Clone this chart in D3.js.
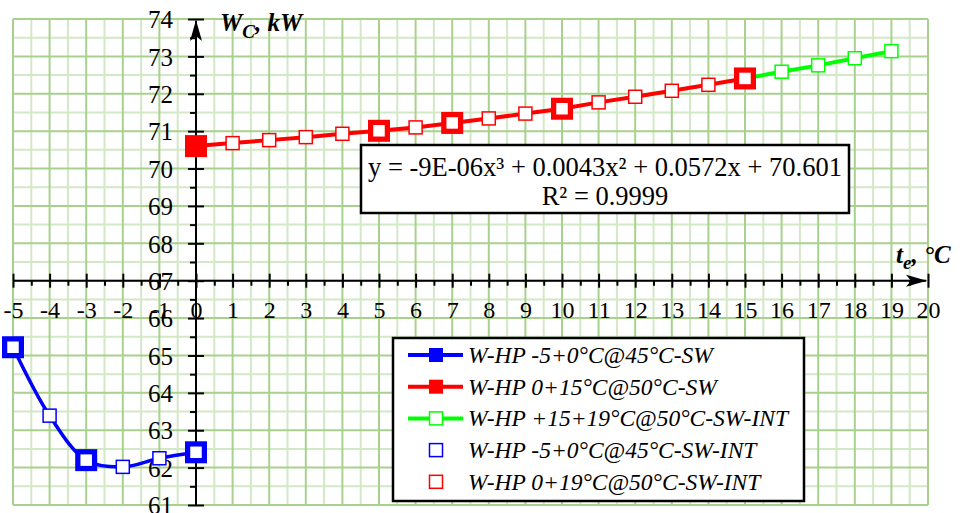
<!DOCTYPE html>
<html><head><meta charset="utf-8">
<script src="https://cdn.jsdelivr.net/npm/d3@7"></script>
<style>body{margin:0;background:#fff}svg{display:block}</style>
</head><body>
<svg id="c" width="964" height="513"></svg>
<script>
// ---- data ----
const blueMainX = [-5, -3, 0];
const blueMainY = [65.22, 62.2, 62.41];
const blueIntX = [-5, -4, -3, -2, -1, 0];
const blueIntY = [65.22, 63.39, 62.2, 62.02, 62.25, 62.41];
const redMainX = [0, 5, 7, 10, 15];
const redMainY = [70.6, 71.01, 71.22, 71.6, 72.41];
const redIntX = [1, 2, 3, 4, 5, 6, 7, 8, 9, 10, 11, 12, 13, 14, 15];
const redIntY = [70.68, 70.76, 70.84, 70.93, 71.01, 71.1, 71.22, 71.34, 71.47, 71.6, 71.77, 71.92, 72.08, 72.24, 72.41];
const greenX = [15, 16, 17, 18, 19];
const greenY = [72.41, 72.59, 72.76, 72.95, 73.14];
const xTicks = [-5,-4,-3,-2,-1,0,1,2,3,4,5,6,7,8,9,10,11,12,13,14,15,16,17,18,19,20];
const yTicks = [61,62,63,64,65,66,67,68,69,70,71,72,73,74];
const legendLabels = ["W-HP -5+0°C@45°C-SW","W-HP 0+15°C@50°C-SW","W-HP +15+19°C@50°C-SW-INT","W-HP -5+0°C@45°C-SW-INT","W-HP 0+19°C@50°C-SW-INT"];
const eqLines = ["y = -9E-06x³ + 0.0043x² + 0.0572x + 70.601", "R² = 0.9999"];

const BLUE="#0000ff", RED="#ff0000", GREEN="#00ff00";
const FONT="Liberation Serif, Times New Roman, serif";
const svg = d3.select("#c");
const x = d3.scaleLinear().domain([-5,20]).range([13,928]);
const y = d3.scaleLinear().domain([61,74]).range([505,19]);

// ---- grid ----
const g = svg.append("g");
const halfX = d3.range(-5, 20.01, 0.5), halfY = d3.range(61, 74.01, 0.5);
halfX.filter(v=>v%1!==0).forEach(v=>g.append("line").attr("x1",x(v)).attr("x2",x(v)).attr("y1",y(61)).attr("y2",y(74)).attr("stroke","#d3e8c6").attr("stroke-width",2));
halfY.filter(v=>v%1!==0).forEach(v=>g.append("line").attr("y1",y(v)).attr("y2",y(v)).attr("x1",x(-5)).attr("x2",x(20)).attr("stroke","#d3e8c6").attr("stroke-width",2));
halfX.filter(v=>v%1===0).forEach(v=>g.append("line").attr("x1",x(v)).attr("x2",x(v)).attr("y1",y(61)).attr("y2",y(74)).attr("stroke","#a9d18e").attr("stroke-width",2));
halfY.filter(v=>v%1===0).forEach(v=>g.append("line").attr("y1",y(v)).attr("y2",y(v)).attr("x1",x(-5)).attr("x2",x(20)).attr("stroke","#a9d18e").attr("stroke-width",2));

// ---- axes ----
const xAxisY = y(67), yAxisX = x(0);
svg.append("g").attr("transform",`translate(0,${xAxisY})`)
  .call(d3.axisBottom(x).tickValues(halfX.filter(v=>v%1!==0)).tickSize(5).tickFormat(""))
  .call(s=>{s.select(".domain").remove();s.selectAll("line").attr("stroke","#000").attr("stroke-width",2);});
svg.append("g").attr("transform",`translate(0,${xAxisY})`)
  .attr("font-family",FONT).attr("font-size",24)
  .call(d3.axisBottom(x).tickValues(xTicks).tickSize(7).tickPadding(23).tickFormat(d=>d))
  .call(s=>{s.attr("font-family",FONT).attr("font-size",24);s.select(".domain").remove();s.selectAll("line").attr("y1",-7).attr("stroke","#000").attr("stroke-width",2);
    s.selectAll("text").style("font-family",FONT).style("font-size","24px").attr("fill","#000").attr("dy","0.32em");});
svg.append("line").attr("x1",x(-5)).attr("x2",x(20)-2).attr("y1",xAxisY).attr("y2",xAxisY).attr("stroke","#000").attr("stroke-width",2);
svg.append("path").attr("d",`M${x(20)-22},${xAxisY-6} L${x(20)-1},${xAxisY} L${x(20)-22},${xAxisY+6} L${x(20)-17},${xAxisY} Z`).attr("fill","#000");

svg.append("g").attr("transform",`translate(${yAxisX},0)`)
  .call(d3.axisLeft(y).tickValues(halfY.filter(v=>v%1!==0)).tickSize(6).tickFormat(""))
  .call(s=>{s.select(".domain").remove();s.selectAll("line").attr("stroke","#000").attr("stroke-width",2);});
svg.append("g").attr("transform",`translate(${yAxisX},0)`)
  .call(d3.axisLeft(y).tickValues(yTicks).tickSize(8).tickPadding(15).tickFormat(d=>d))
  .call(s=>{s.attr("font-family",FONT).attr("font-size",25);s.select(".domain").remove();s.selectAll("line").attr("x1",8).attr("stroke","#000").attr("stroke-width",2);
    s.selectAll("text").style("font-family",FONT).style("font-size","25px").attr("fill","#000").attr("dy","0.35em");});
svg.append("line").attr("x1",yAxisX).attr("x2",yAxisX).attr("y1",y(61)).attr("y2",y(74)+2).attr("stroke","#000").attr("stroke-width",2);
svg.append("path").attr("d",`M${yAxisX-6},${y(74)+22} L${yAxisX},${y(74)+1} L${yAxisX+6},${y(74)+22} L${yAxisX},${y(74)+17} Z`).attr("fill","#000");

// axis titles
const t1 = svg.append("text").attr("x",220).attr("y",31).style("font-family",FONT).attr("font-size",25).attr("font-weight","bold").attr("font-style","italic");
t1.append("tspan").text("W");
t1.append("tspan").attr("font-size",19).attr("dy",7).text("C");
t1.append("tspan").attr("dy",-7).text(", kW");
const t2 = svg.append("text").attr("x",896).attr("y",263).style("font-family",FONT).attr("font-size",25).attr("font-weight","bold").attr("font-style","italic");
t2.append("tspan").text("t");
t2.append("tspan").attr("font-size",19).attr("dy",6).text("e");
t2.append("tspan").attr("dy",-6).text(", °C");

// ---- series ----
const line = d3.line().x(d=>x(d[0])).y(d=>y(d[1]));
const smooth = d3.line().x(d=>x(d[0])).y(d=>y(d[1])).curve(d3.curveCatmullRom.alpha(0.5));
svg.append("path").attr("d",smooth(d3.zip(blueIntX,blueIntY))).attr("fill","none").attr("stroke",BLUE).attr("stroke-width",3.5);
svg.append("path").attr("d",line(d3.zip([redMainX[0]].concat(redIntX),[redMainY[0]].concat(redIntY)))).attr("fill","none").attr("stroke",RED).attr("stroke-width",4);
svg.append("path").attr("d",line(d3.zip(greenX,greenY))).attr("fill","none").attr("stroke",GREEN).attr("stroke-width",4);

function bigSq(xs,ys,color){
  xs.forEach((v,i)=>svg.append("rect").attr("x",x(v)-11).attr("y",y(ys[i])-11).attr("width",22).attr("height",22).attr("fill",color));
}
function smallSq(xs,ys,color){
  xs.forEach((v,i)=>svg.append("rect").attr("x",x(v)-6.5).attr("y",y(ys[i])-6.5).attr("width",13).attr("height",13).attr("fill","#fff").attr("stroke",color).attr("stroke-width",1.5));
}
bigSq(blueMainX,blueMainY,BLUE);
bigSq(redMainX,redMainY,RED);
smallSq(blueIntX,blueIntY,BLUE);
smallSq(redIntX,redIntY,RED);
smallSq(greenX.slice(1),greenY.slice(1),GREEN);

// ---- equation box ----
svg.append("rect").attr("x",361).attr("y",145).attr("width",488).attr("height",68).attr("fill","#fff").attr("stroke","#000").attr("stroke-width",2.5);
eqLines.forEach((t,i)=>svg.append("text").attr("x",605).attr("y",176+i*29).attr("text-anchor","middle").style("font-family",FONT).attr("font-size",26.5).text(t));

// ---- legend ----
svg.append("rect").attr("x",393).attr("y",338).attr("width",411).attr("height",163).attr("fill","#fff").attr("stroke","#000").attr("stroke-width",2.5);
const rowY = i=>355+i*31.7;
const legColors=[BLUE,RED,GREEN,BLUE,RED];
legendLabels.forEach((lab,i)=>{
  const cy=rowY(i), c=legColors[i];
  if(i<3) svg.append("line").attr("x1",408).attr("x2",463).attr("y1",cy).attr("y2",cy).attr("stroke",c).attr("stroke-width",4);
  if(i<2) svg.append("rect").attr("x",429).attr("y",cy-7).attr("width",14).attr("height",14).attr("fill",c);
  else svg.append("rect").attr("x",429.5).attr("y",cy-6.5).attr("width",13).attr("height",13).attr("fill","#fff").attr("stroke",c).attr("stroke-width",1.5);
  svg.append("text").attr("x",468).attr("y",cy+8).style("font-family",FONT).attr("font-size",23.5).attr("font-style","italic").text(lab);
});
</script>
</body></html>
